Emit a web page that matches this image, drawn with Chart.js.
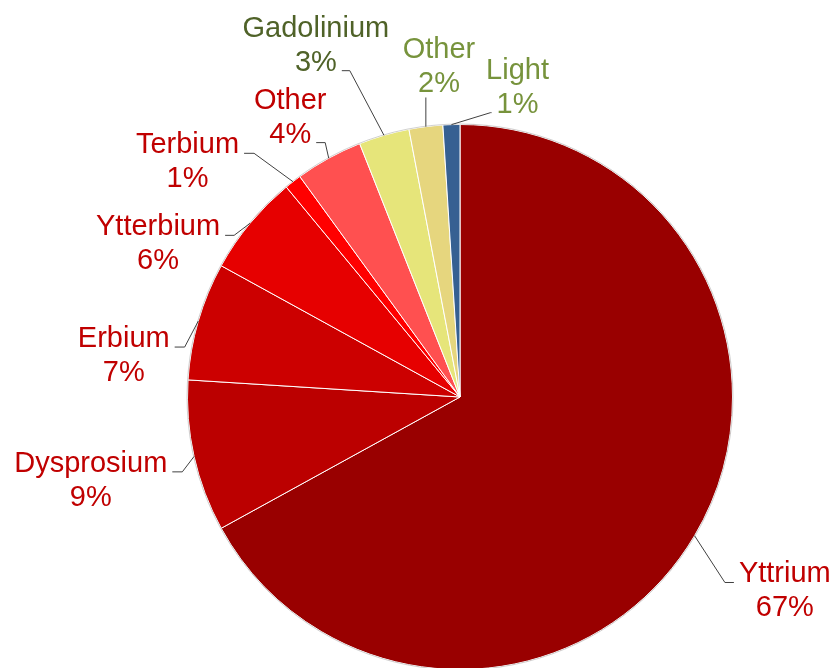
<!DOCTYPE html>
<html>
<head>
<meta charset="utf-8">
<script src="https://cdn.jsdelivr.net/npm/chart.js@4"></script>
<style>
  html, body { margin: 0; padding: 0; background: #fff; overflow: hidden; }
  #wrap { position: relative; width: 833px; height: 700px; }
</style>
</head>
<body>
<div id="wrap"><canvas id="pie"></canvas></div>
<script>
// data
const elements = ['Yttrium', 'Dysprosium', 'Erbium', 'Ytterbium', 'Terbium', 'Other', 'Gadolinium', 'Other', 'Light'];
const shares = [67, 9, 7, 6, 1, 4, 3, 2, 1];

// styles
const sliceColors = ['#990000', '#BB0000', '#CC0000', '#E60000', '#FF0000', '#FF5050', '#E6E57A', '#E6D67E', '#366092'];
const textColors = ['#C00000', '#C00000', '#C00000', '#C00000', '#C00000', '#C00000', '#4F6228', '#77933C', '#77933C'];

// label placement, in units of the pie radius from its centre, plus where the leader attaches
const labelLayout = [
  { dx: 1.192, dy: 0.705, line: 0, side: 'left', tail: 9 },
  { dx: -1.355, dy: 0.299, line: 0, side: 'right', tail: 10 },
  { dx: -1.234, dy: -0.159, line: 0, side: 'right', tail: 10 },
  { dx: -1.108, dy: -0.569, line: 0, side: 'right', tail: 9 },
  { dx: -1.0, dy: -0.870, line: 0, side: 'right', tail: 10 },
  { dx: -0.623, dy: -1.034, line: 1, side: 'right', tail: 9 },
  { dx: -0.529, dy: -1.298, line: 1, side: 'right', tail: 8 },
  { dx: -0.077, dy: -1.218, line: 1, side: 'below', tail: 0 },
  { dx: 0.211, dy: -1.144, line: 1, side: 'left', tail: 1 }
];

const FONT_SIZE = 29;
const LINE_H = 34;

const outsideLabels = {
  id: 'outsideLabels',
  afterDatasetsDraw(chart) {
    const { ctx } = chart;
    const meta = chart.getDatasetMeta(0);
    ctx.save();
    ctx.font = FONT_SIZE + 'px "Liberation Sans", Arial, sans-serif';
    ctx.textAlign = 'center';
    ctx.textBaseline = 'alphabetic';

    // faint outline round the pie
    const a0 = meta.data[0];
    ctx.beginPath();
    ctx.arc(a0.x, a0.y, a0.outerRadius + 0.5, 0, Math.PI * 2);
    ctx.strokeStyle = 'rgba(0,0,0,0.18)';
    ctx.lineWidth = 1;
    ctx.stroke();

    meta.data.forEach((arc, i) => {
      const R = arc.outerRadius;
      const mid = (arc.startAngle + arc.endAngle) / 2;
      const ex = arc.x + Math.cos(mid) * R;
      const ey = arc.y + Math.sin(mid) * R;
      const lay = labelLayout[i];
      const cx = arc.x + lay.dx * R;
      const cy = arc.y + lay.dy * R;
      const lines = [elements[i], shares[i] + '%'];
      const capH = FONT_SIZE * 0.716;
      const baselines = lines.map((_, k) => cy - LINE_H / 2 + k * LINE_H + capH / 2);

      ctx.fillStyle = textColors[i];
      lines.forEach((t, k) => ctx.fillText(t, cx, baselines[k]));

      // leader line
      const w = ctx.measureText(lines[lay.line]).width;
      const by = baselines[lay.line];
      ctx.beginPath();
      ctx.strokeStyle = '#404040';
      ctx.lineWidth = 1;
      ctx.moveTo(ex, ey);
      if (lay.side === 'right') {
        const ax = cx + w / 2 + 5;
        ctx.lineTo(ax + lay.tail, by);
        ctx.lineTo(ax, by);
      } else if (lay.side === 'left') {
        const ax = cx - w / 2 - 5;
        ctx.lineTo(ax - lay.tail, by);
        ctx.lineTo(ax, by);
      } else {
        ctx.lineTo(ex, by + 5);
      }
      ctx.stroke();
    });
    ctx.restore();
  }
};

new Chart(document.getElementById('pie'), {
  type: 'pie',
  data: {
    labels: elements,
    datasets: [{
      data: shares,
      backgroundColor: sliceColors,
      borderColor: '#ffffff',
      borderWidth: 1
    }]
  },
  options: {
    responsive: true,
    maintainAspectRatio: false,
    animation: false,
    layout: { padding: { left: 187, right: 100, top: 124, bottom: 30 } },
    plugins: { legend: { display: false }, tooltip: { enabled: false } }
  },
  plugins: [outsideLabels]
});
</script>
</body>
</html>
